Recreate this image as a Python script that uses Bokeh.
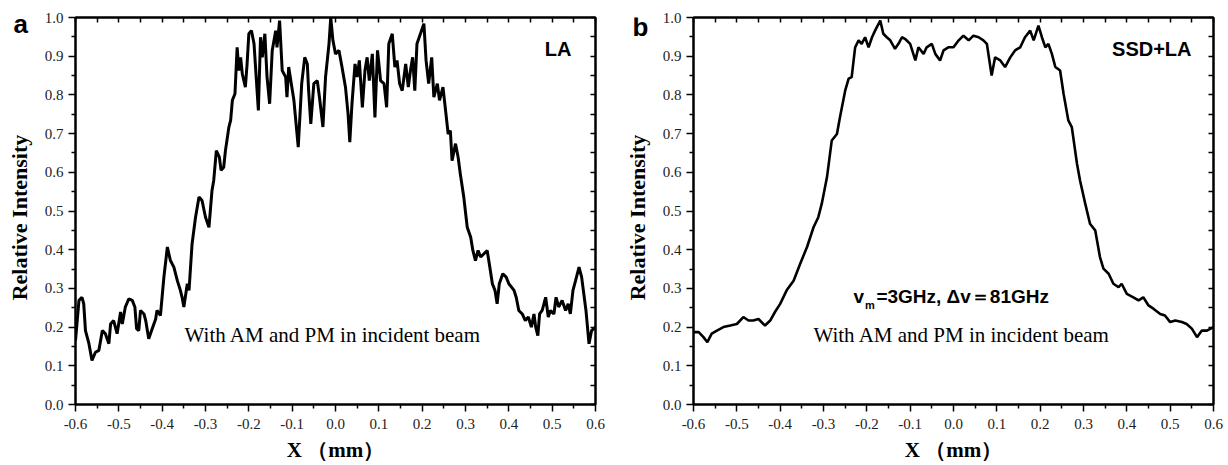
import math
from bokeh.plotting import figure
from bokeh.layouts import row
from bokeh.models import (Range1d, LinearAxis, FixedTicker, PrintfTickFormatter, Label,
                          CustomLabelingPolicy)
from bokeh.embed import file_html
from bokeh.resources import INLINE

# ---- data ----
xs_a = [-0.600, -0.592, -0.585, -0.581, -0.577, -0.569, -0.562, -0.554, -0.546, -0.538,
        -0.531, -0.523, -0.519, -0.512, -0.504, -0.496, -0.492, -0.485, -0.477, -0.469,
        -0.463, -0.459, -0.454, -0.450, -0.442, -0.438, -0.431, -0.423, -0.415, -0.412,
        -0.404, -0.396, -0.388, -0.381, -0.373, -0.365, -0.358, -0.354, -0.350, -0.342,
        -0.338, -0.331, -0.323, -0.315, -0.308, -0.300, -0.292, -0.285, -0.281, -0.275,
        -0.268, -0.264, -0.258, -0.254, -0.246, -0.242, -0.238, -0.232, -0.227, -0.223,
        -0.219, -0.215, -0.208, -0.204, -0.200, -0.194, -0.188, -0.185, -0.178, -0.173,
        -0.169, -0.163, -0.158, -0.152, -0.146, -0.138, -0.135, -0.129, -0.123, -0.115,
        -0.112, -0.108, -0.102, -0.096, -0.086, -0.078, -0.071, -0.065, -0.062, -0.057,
        -0.050, -0.042, -0.037, -0.029, -0.023, -0.015, -0.011, -0.006, 0.000,
        0.008, 0.015, 0.023, 0.029, 0.033, 0.038, 0.045, 0.050, 0.055, 0.062,
        0.068, 0.073, 0.078, 0.085, 0.091, 0.097, 0.104, 0.112, 0.118, 0.123,
        0.131, 0.137, 0.142, 0.148, 0.154, 0.162, 0.168, 0.173, 0.178, 0.183,
        0.188, 0.196, 0.204, 0.209, 0.215, 0.222, 0.227, 0.235, 0.240, 0.248,
        0.254, 0.260, 0.265, 0.269, 0.277, 0.283, 0.288, 0.296, 0.304, 0.312,
        0.317, 0.323, 0.329, 0.335, 0.342, 0.350, 0.355, 0.362, 0.368, 0.373,
        0.378, 0.386, 0.394, 0.400, 0.412, 0.417, 0.423, 0.431, 0.438, 0.445,
        0.452, 0.458, 0.462, 0.467, 0.471, 0.477, 0.485, 0.491, 0.496, 0.504,
        0.509, 0.515, 0.523, 0.531, 0.537, 0.542, 0.548, 0.554, 0.562, 0.568,
        0.573, 0.578, 0.585, 0.591, 0.600]
ys_a = [0.165, 0.269, 0.277, 0.260, 0.191, 0.157, 0.114, 0.135, 0.140, 0.191,
        0.183, 0.157, 0.208, 0.217, 0.183, 0.239, 0.208, 0.252, 0.273, 0.269,
        0.252, 0.196, 0.191, 0.243, 0.234, 0.217, 0.170, 0.196, 0.221, 0.243,
        0.230, 0.329, 0.407, 0.372, 0.355, 0.320, 0.295, 0.277, 0.252, 0.312,
        0.295, 0.415, 0.484, 0.536, 0.527, 0.484, 0.458, 0.553, 0.579, 0.656,
        0.639, 0.605, 0.613, 0.656, 0.717, 0.734, 0.786, 0.803, 0.923, 0.863,
        0.897, 0.854, 0.820, 0.880, 0.958, 0.966, 0.932, 0.880, 0.760, 0.949,
        0.897, 0.958, 0.846, 0.777, 0.915, 0.966, 0.923, 0.992, 0.863, 0.846,
        0.794, 0.872, 0.829, 0.786, 0.665, 0.829, 0.897, 0.880, 0.811, 0.725,
        0.829, 0.837, 0.794, 0.717, 0.846, 0.932, 1.000, 0.941, 0.906,
        0.915, 0.872, 0.820, 0.751, 0.678, 0.777, 0.880, 0.846, 0.889, 0.768,
        0.863, 0.897, 0.837, 0.906, 0.742, 0.915, 0.837, 0.829, 0.768, 0.932,
        0.958, 0.872, 0.889, 0.829, 0.811, 0.880, 0.820, 0.863, 0.897, 0.811,
        0.932, 0.958, 0.984, 0.889, 0.829, 0.897, 0.794, 0.829, 0.786, 0.820,
        0.760, 0.699, 0.708, 0.630, 0.674, 0.639, 0.596, 0.536, 0.458, 0.432,
        0.398, 0.372, 0.398, 0.381, 0.389, 0.398, 0.363, 0.312, 0.295, 0.260,
        0.312, 0.338, 0.329, 0.312, 0.295, 0.277, 0.243, 0.234, 0.217, 0.226,
        0.200, 0.234, 0.200, 0.178, 0.234, 0.243, 0.277, 0.226, 0.243, 0.234,
        0.277, 0.252, 0.269, 0.243, 0.260, 0.234, 0.295, 0.320, 0.355, 0.329,
        0.286, 0.243, 0.157, 0.191, 0.200]

xs_b = [-0.600, -0.588, -0.577, -0.568, -0.558, -0.546, -0.531, -0.515, -0.500, -0.485,
        -0.473, -0.462, -0.450, -0.435, -0.423, -0.412, -0.400, -0.385, -0.369, -0.354,
        -0.338, -0.323, -0.312, -0.304, -0.292, -0.281, -0.269, -0.262, -0.250, -0.242,
        -0.235, -0.227, -0.219, -0.212, -0.204, -0.196, -0.188, -0.181, -0.169, -0.162,
        -0.154, -0.146, -0.135, -0.127, -0.119, -0.112, -0.100, -0.088, -0.081, -0.069,
        -0.062, -0.050, -0.042, -0.031, -0.023, -0.012,
        0.000, 0.012, 0.023, 0.035, 0.046, 0.058, 0.069, 0.077, 0.088, 0.096,
        0.108, 0.119, 0.131, 0.142, 0.154, 0.165, 0.177, 0.185, 0.196, 0.204,
        0.212, 0.219, 0.227, 0.235, 0.246, 0.254, 0.265, 0.273, 0.285, 0.292,
        0.304, 0.315, 0.327, 0.338, 0.346, 0.358, 0.369, 0.381, 0.388, 0.400,
        0.415, 0.427, 0.438, 0.450, 0.462, 0.477, 0.488, 0.500, 0.512, 0.527,
        0.538, 0.550, 0.562, 0.573, 0.585, 0.600]
ys_b = [0.187, 0.187, 0.174, 0.161, 0.183, 0.191, 0.200, 0.204, 0.208, 0.226,
        0.217, 0.217, 0.221, 0.204, 0.217, 0.239, 0.260, 0.295, 0.320, 0.363,
        0.407, 0.458, 0.484, 0.519, 0.587, 0.682, 0.699, 0.742, 0.811, 0.842,
        0.846, 0.923, 0.941, 0.932, 0.949, 0.923, 0.949, 0.966, 0.992, 0.958,
        0.949, 0.941, 0.919, 0.932, 0.949, 0.945, 0.932, 0.889, 0.923, 0.906,
        0.923, 0.932, 0.906, 0.889, 0.915, 0.923,
        0.923, 0.941, 0.953, 0.941, 0.953, 0.949, 0.941, 0.932, 0.850, 0.897,
        0.889, 0.872, 0.897, 0.915, 0.923, 0.949, 0.966, 0.941, 0.979, 0.949,
        0.923, 0.932, 0.906, 0.872, 0.863, 0.803, 0.734, 0.717, 0.622, 0.579,
        0.519, 0.467, 0.450, 0.381, 0.351, 0.338, 0.312, 0.303, 0.312, 0.286,
        0.277, 0.269, 0.277, 0.256, 0.247, 0.234, 0.230, 0.213, 0.217, 0.213,
        0.208, 0.196, 0.174, 0.191, 0.191, 0.200]

x_major = [round(-0.6 + 0.1 * i, 2) for i in range(13)]
x_minor = [round(-0.55 + 0.1 * i, 2) for i in range(12)]
y_major = [round(0.1 * i, 2) for i in range(11)]
y_minor = [round(0.05 + 0.1 * i, 2) for i in range(10)]

SERIF = "Liberation Serif"
SANS = "Liberation Sans"
H = 465
TOP, BOTTOM = 17, 61

NO_LABELS = CustomLabelingPolicy(code="""
try { for (let i = 0; i < indices.size; i++) { indices.set(i, false) } } catch (e) {}
return indices
""")


def style_axis(ax, ticks, minors, outer, labels=True):
    ax.ticker = FixedTicker(ticks=ticks, minor_ticks=minors)
    ax.axis_line_width = 2
    ax.axis_line_color = "black"
    ax.major_tick_line_width = 1.5
    ax.minor_tick_line_width = 1.5
    ax.major_tick_line_color = "black"
    ax.minor_tick_line_color = "black"
    if outer:
        ax.major_tick_out = 7
        ax.major_tick_in = 0
        ax.minor_tick_out = 4
        ax.minor_tick_in = 0
    else:
        ax.major_tick_out = 0
        ax.major_tick_in = 5
        ax.minor_tick_out = 0
        ax.minor_tick_in = 5
    if labels:
        ax.formatter = PrintfTickFormatter(format="%.1f")
        ax.major_label_text_font = SERIF
        ax.major_label_text_font_size = "15px"
        ax.major_label_text_color = "#222222"
        ax.major_label_standoff = 5
    else:
        ax.major_label_policy = NO_LABELS
        ax.major_label_text_font_size = "0px"
        ax.major_label_standoff = 0


def side_panel(width, letter, lx, ly, cx):
    """Narrow strip at the left of a panel: panel letter and the y title."""
    s = figure(width=width, height=H, output_backend="svg", toolbar_location=None,
               title=None, x_range=Range1d(0, width), y_range=Range1d(0.0, 1.0),
               min_border_left=0, min_border_right=0,
               min_border_top=TOP, min_border_bottom=BOTTOM,
               x_axis_location=None, y_axis_location=None)
    s.grid.visible = False
    s.outline_line_color = None
    s.add_layout(Label(x=lx, y=ly, text=letter, text_font=SANS, text_font_style="bold",
                       text_font_size="26px", text_color="black",
                       text_baseline="bottom"))
    s.add_layout(Label(x=cx, y=0.483, text="Relative Intensity", angle=math.pi / 2,
                       text_align="center", text_baseline="middle",
                       text_font=SERIF, text_font_style="bold", text_font_size="22px",
                       text_color="black"))
    return s


def make_panel(xs, ys, width, left, right, tag, tag_off, note_x, lw):
    p = figure(width=width, height=H, output_backend="svg", toolbar_location=None,
               title=None, x_range=Range1d(-0.6, 0.6), y_range=Range1d(0.0, 1.0),
               min_border_left=left, min_border_right=right,
               min_border_top=TOP, min_border_bottom=BOTTOM,
               x_axis_location=None, y_axis_location=None)
    p.grid.visible = False
    p.outline_line_color = "black"
    p.outline_line_width = 2
    p.background_fill_color = "white"
    p.border_fill_color = "white"

    xb = LinearAxis(axis_label="X （mm）")
    style_axis(xb, x_major, x_minor, True)
    xb.major_label_standoff = 7
    xb.axis_label_text_font = SERIF
    xb.axis_label_text_font_style = "bold"
    xb.axis_label_text_font_size = "21px"
    xb.axis_label_text_color = "black"
    xb.axis_label_standoff = 6
    p.add_layout(xb, "below")

    yl = LinearAxis()
    style_axis(yl, y_major, y_minor, True)
    p.add_layout(yl, "left")

    xt = LinearAxis()
    style_axis(xt, x_major, x_minor, False, labels=False)
    p.add_layout(xt, "above")

    yr = LinearAxis()
    style_axis(yr, y_major, y_minor, False, labels=False)
    p.add_layout(yr, "right")

    p.line(xs, ys, line_color="black", line_width=lw)

    p.add_layout(Label(x=0.6, y=0.891, x_offset=-tag_off, text=tag, text_align="right",
                       text_baseline="bottom",
                       text_font=SANS, text_font_style="bold", text_font_size="20px",
                       text_color="black"))
    p.add_layout(Label(x=note_x, y=0.149, text="With AM and PM  in incident beam",
                       text_align="center", text_baseline="bottom",
                       text_font=SERIF, text_font_size="21px", text_color="black"))
    return p


sa = side_panel(40, "a", 13, 0.944, 19)
p1 = make_panel(xs_a, ys_a, 575, 35, 20, "LA", 24, 0.0, 3.0)
sb = side_panel(38, "b", 17, 0.937, 22)
p2 = make_panel(xs_b, ys_b, 575, 40, 15, "SSD+LA", 22, 0.025, 2.6)

# modulation annotation in panel b
vx, vy = -0.231, 0.253
p2.add_layout(Label(x=vx, y=vy, text="v", text_font=SANS, text_font_style="bold",
                    text_font_size="19px", text_color="black", text_baseline="bottom"))
p2.add_layout(Label(x=vx, y=vy, x_offset=11.5, y_offset=-4, text="m", text_font=SANS,
                    text_font_style="bold", text_font_size="11px", text_color="black",
                    text_baseline="bottom"))
p2.add_layout(Label(x=vx, y=vy, x_offset=23, text="=3GHz, Δv＝81GHz", text_font=SANS,
                    text_font_style="bold", text_font_size="19px", text_color="black",
                    text_baseline="bottom"))

layout = row(sa, p1, sb, p2)
open("out.html", "w").write(file_html(layout, INLINE))
